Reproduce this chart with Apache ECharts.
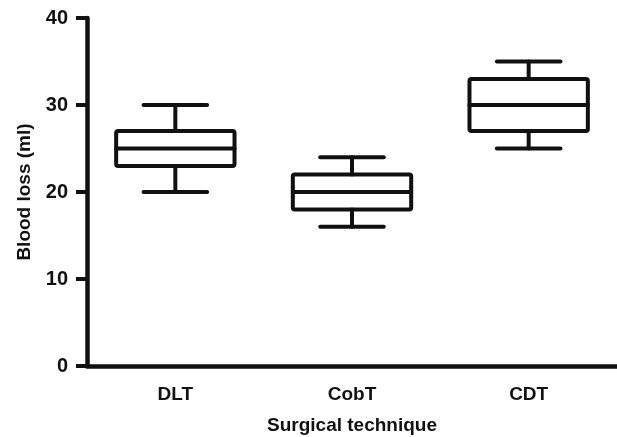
<!DOCTYPE html>
<html><head><meta charset="utf-8">
<script src="https://cdn.jsdelivr.net/npm/echarts@6/dist/echarts.min.js"></script>
<style>html,body{margin:0;padding:0;background:#fff}#c{width:617px;height:437px}</style>
</head><body><div id="c"></div>
<script>
const categories = ['DLT', 'CobT', 'CDT'];
const whiskerMin = [20, 16, 25];
const q1 = [23, 18, 27];
const median = [25, 20, 30];
const q3 = [27, 22, 33];
const whiskerMax = [30, 24, 35];
const yTicks = [0, 10, 20, 30, 40];

const data = categories.map((c, i) => [i, whiskerMin[i], q1[i], median[i], q3[i], whiskerMax[i]]);
const chart = echarts.init(document.getElementById('c'));
const INK = '#111';
const FONT = 'Liberation Sans';
chart.setOption({
  animation: false,
  grid: {left: 87, right: 0, top: 18, bottom: 71, containLabel: false, outerBoundsMode: 'none'},
  xAxis: {
    type: 'category', data: categories,
    name: 'Surgical technique', nameLocation: 'middle', nameGap: 50,
    nameTextStyle: {fontFamily: FONT, fontWeight: 'bold', fontSize: 19, color: INK},
    axisLine: {lineStyle: {color: INK, width: 4.5}},
    axisTick: {alignWithLabel: true, length: 9, lineStyle: {width: 4, color: INK}},
    axisLabel: {fontFamily: FONT, fontWeight: 'bold', fontSize: 19, color: INK, margin: 19},
    splitLine: {show: false}
  },
  yAxis: {
    type: 'value', min: 0, max: 40, interval: 10,
    name: 'Blood loss (ml)', nameLocation: 'middle', nameGap: 53,
    nameTextStyle: {fontFamily: FONT, fontWeight: 'bold', fontSize: 19, color: INK},
    axisLine: {show: true, lineStyle: {color: INK, width: 4.5}},
    axisTick: {show: true, length: 11, lineStyle: {width: 4, color: INK}},
    axisLabel: {fontFamily: FONT, fontWeight: 'bold', fontSize: 20, color: INK, margin: 19,
      formatter: v => yTicks.includes(v) ? String(v) : ''},
    splitLine: {show: false}
  },
  series: [{
    type: 'custom',
    data: data,
    encode: {x: 0, y: [1, 2, 3, 4, 5]},
    renderItem: function (params, api) {
      const x = api.value(0);
      const band = api.size([1, 0])[0];
      const bw = band * 0.67, cw = band * 0.36;
      const pMin = api.coord([x, api.value(1)]);
      const pQ1 = api.coord([x, api.value(2)]);
      const pMed = api.coord([x, api.value(3)]);
      const pQ3 = api.coord([x, api.value(4)]);
      const pMax = api.coord([x, api.value(5)]);
      const cx = pMed[0];
      const st = {stroke: INK, lineWidth: 4, fill: null, lineJoin: 'round', lineCap: 'round'};
      const line = (x1, y1, x2, y2) => ({type: 'line', shape: {x1, y1, x2, y2}, style: st});
      return {type: 'group', children: [
        {type: 'rect', shape: {x: cx - bw / 2, y: pQ3[1], width: bw, height: pQ1[1] - pQ3[1], r: 2}, style: {stroke: INK, lineWidth: 4, fill: 'none'}},
        line(cx - bw / 2, pMed[1], cx + bw / 2, pMed[1]),
        line(cx, pQ3[1], cx, pMax[1]),
        line(cx, pQ1[1], cx, pMin[1]),
        line(cx - cw / 2, pMax[1], cx + cw / 2, pMax[1]),
        line(cx - cw / 2, pMin[1], cx + cw / 2, pMin[1])
      ]};
    }
  }]
});
</script></body></html>
